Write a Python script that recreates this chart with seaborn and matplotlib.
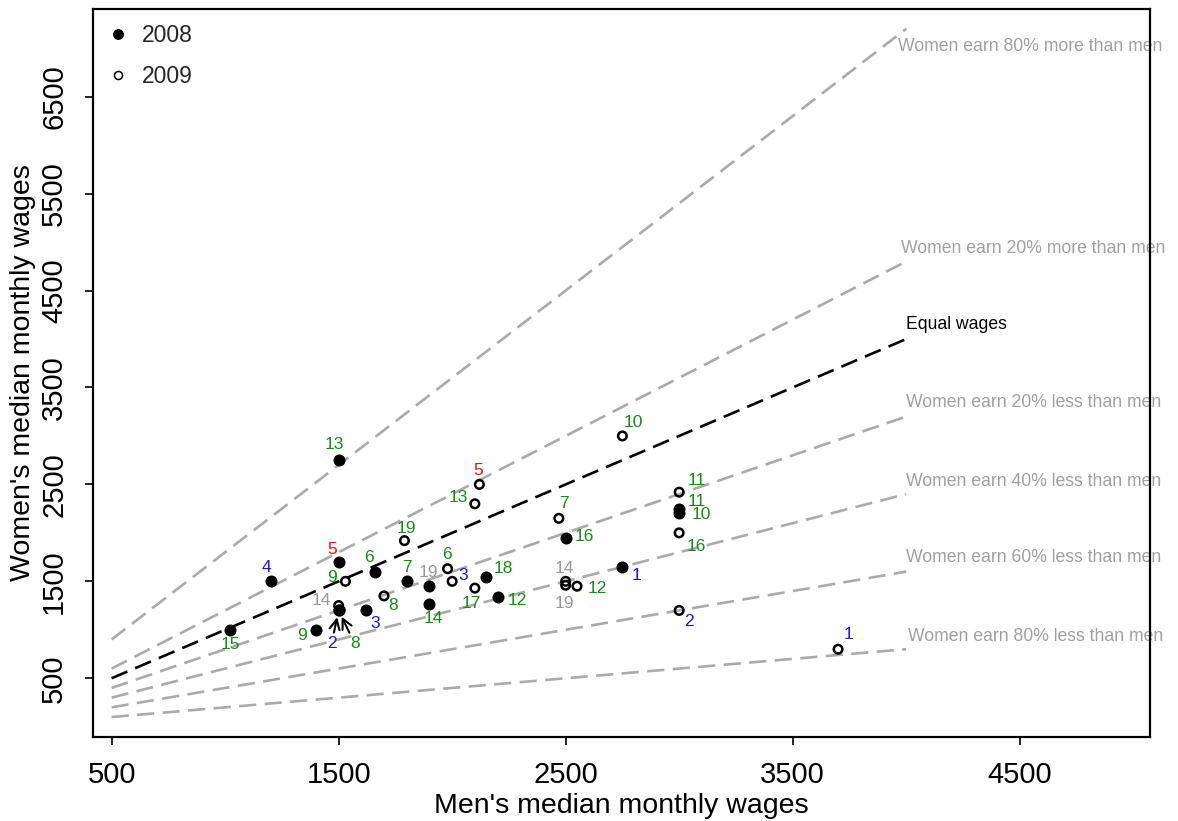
import matplotlib
matplotlib.use("Agg")
import matplotlib.pyplot as plt
from matplotlib.lines import Line2D
import seaborn as sns
import pandas as pd

# Reference lines: women's wage = ratio * men's wage
ratio_values = [1.8, 1.2, 1.0, 0.8, 0.6, 0.4, 0.2]
ratio_labels = [
    "Women earn 80% more than men",
    "Women earn 20% more than men",
    "Equal wages",
    "Women earn 20% less than men",
    "Women earn 40% less than men",
    "Women earn 60% less than men",
    "Women earn 80% less than men",
]
line_men_range = [500, 4000]

# 2008 observations
ids_2008 = ["1", "2", "3", "4", "5", "6", "7", "8", "9", "10", "11", "12",
            "13", "14", "15", "16", "18", "19"]
men_2008 = [2750, 1500, 1620, 1200, 1500, 1660, 1800, 1500, 1400, 3000, 3000, 2200,
            1500, 1900, 1020, 2500, 2150, 1900]
women_2008 = [1650, 1200, 1200, 1500, 1700, 1600, 1500, 1200, 1000, 2200, 2250, 1340,
              2750, 1270, 1000, 1950, 1540, 1450]
group_2008 = ["blue", "blue", "blue", "blue", "red", "green", "green", "green", "green",
              "green", "green", "green", "green", "green", "green", "green", "green", "grey"]

# 2009 observations
ids_2009 = ["1", "2", "3", "5", "6", "7", "8", "9", "10", "11", "12", "13",
            "14", "14", "16", "17", "19", "19"]
men_2009 = [3700, 3000, 2000, 2120, 1980, 2470, 1700, 1530, 2750, 3000, 2550, 2100,
            1500, 2500, 3000, 2100, 1790, 2500]
women_2009 = [800, 1200, 1500, 2500, 1630, 2150, 1350, 1500, 3000, 2420, 1450, 2300,
              1250, 1500, 2000, 1430, 1920, 1460]
group_2009 = ["blue", "blue", "blue", "red", "green", "green", "green", "green", "green",
              "green", "green", "green", "grey", "grey", "green", "green", "green", "grey"]

x_ticks = [500, 1500, 2500, 3500, 4500]
y_ticks = [500, 1500, 2500, 3500, 4500, 5500, 6500]

# ---- styling -------------------------------------------------------------
text_colors = {"blue": "#1a1ad0", "red": "#ee1111", "green": "#1b8a1b", "grey": "#999999"}
line_grey = "#aaaaaa"
dash = (0, (6.5, 3.2))
PX = 0.72  # points per pixel at 100 dpi

# label offsets in pixels (right, down) from each point
offsets_2008 = [(14, 9), None, (9, 13), (-4, -14), (-6, -12), (-6, -14), (0, -14), None,
                (-14, 6), (22, 1), (18, -7), (20, 4), (-4, -16), (4, 15), (1, 15),
                (19, -1), (17, -9), (-1, -14)]
arrow_2008 = {1: (-7, 33), 7: (16, 33)}
offsets_2009 = [(10, -15), (10, 11), (11, -6), (-1, -14), (-1, -14), (5, -15), (9, 10),
                (-13, -4), (11, -13), (18, -12), (20, 2), (-17, -6), (-17, -5), (-1, -13),
                (17, 14), (-4, 15), (2, -12), (-1, 18)]

line_label_x = [3965, 3975, 4000, 4000, 4000, 4000, 4010]
line_label_y = [7013, 4939, 4155, 3340, 2535, 1741, 926]

sns.set_theme(style="white")
plt.rcParams["font.family"] = ["Liberation Sans", "DejaVu Sans"]

fig = plt.figure(figsize=(11.78, 8.21), dpi=100)
ax = fig.add_axes([93 / 1178, 1 - 737 / 821, (1150 - 93) / 1178, (737 - 9) / 821])

# ratio lines
for r, lab, lx, ly in zip(ratio_values, ratio_labels, line_label_x, line_label_y):
    xs = line_men_range
    ys = [r * v for v in xs]
    col = "black" if r == 1.0 else line_grey
    ax.plot(xs, ys, color=col, lw=1.9, linestyle=dash, zorder=1)
    ax.text(lx, ly, lab, color="black" if r == 1.0 else "#a0a0a0", fontsize=12.7,
            ha="left", va="center", zorder=2)

df08 = pd.DataFrame({"men": men_2008, "women": women_2008})
df09 = pd.DataFrame({"men": men_2009, "women": women_2009})

sns.scatterplot(data=df08, x="men", y="women", ax=ax, color="black", s=75,
                linewidth=0, zorder=3, legend=False)
sns.scatterplot(data=df09, x="men", y="women", ax=ax, facecolors="none",
                edgecolor="black", linewidth=1.8, s=38, zorder=3, legend=False)

# point labels
LABEL_SIZE = 12.5
for i, (lab, mx, wy, g) in enumerate(zip(ids_2008, men_2008, women_2008, group_2008)):
    if i in arrow_2008:
        dx, dy = arrow_2008[i]
        ax.annotate(lab, (mx, wy), xytext=(dx * PX, -dy * PX), textcoords="offset points",
                    ha="center", va="center", fontsize=LABEL_SIZE, color=text_colors[g],
                    arrowprops=dict(arrowstyle="->", color="black", lw=1.5,
                                    shrinkA=0, shrinkB=5, mutation_scale=18), zorder=4)
    else:
        dx, dy = offsets_2008[i]
        ax.annotate(lab, (mx, wy), xytext=(dx * PX, -dy * PX), textcoords="offset points",
                    ha="center", va="center", fontsize=LABEL_SIZE, color=text_colors[g],
                    zorder=4)

for i, (lab, mx, wy, g) in enumerate(zip(ids_2009, men_2009, women_2009, group_2009)):
    dx, dy = offsets_2009[i]
    ax.annotate(lab, (mx, wy), xytext=(dx * PX, -dy * PX), textcoords="offset points",
                ha="center", va="center", fontsize=LABEL_SIZE, color=text_colors[g], zorder=4)

# axes
ax.set_xlim(418, 5074)
ax.set_ylim(-106, 7405)
ax.set_xticks(x_ticks)
ax.set_yticks(y_ticks)
ax.set_xticklabels([str(v) for v in x_ticks])
ax.set_yticklabels([str(v) for v in y_ticks], rotation=90, va="center")
ax.tick_params(axis="both", bottom=True, left=True, direction="out", length=6,
               width=1.2, color="black", labelsize=21, labelcolor="black")
ax.tick_params(axis="x", pad=11)
ax.tick_params(axis="y", pad=12)
for sp in ax.spines.values():
    sp.set_visible(True)
    sp.set_color("black")
    sp.set_linewidth(1.6)
    sp.set_zorder(5)

ax.set_xlabel("Men's median monthly wages", fontsize=20.5, color="black", labelpad=3)
ax.set_ylabel("Women's median monthly wages", fontsize=20.5, color="black", labelpad=3)

handles = [
    Line2D([], [], marker="o", linestyle="none", markerfacecolor="black",
           markeredgecolor="black", markersize=6.8, label="2008"),
    Line2D([], [], marker="o", linestyle="none", markerfacecolor="none",
           markeredgecolor="black", markeredgewidth=1.1, markersize=5.8, label="2009"),
]
ax.legend(handles=handles, loc="upper left", frameon=False, fontsize=16.5,
          handletextpad=0.6, labelspacing=0.8, borderaxespad=0.3, handlelength=0.9,
          borderpad=0.35)

fig.savefig("out.png", dpi=100)
